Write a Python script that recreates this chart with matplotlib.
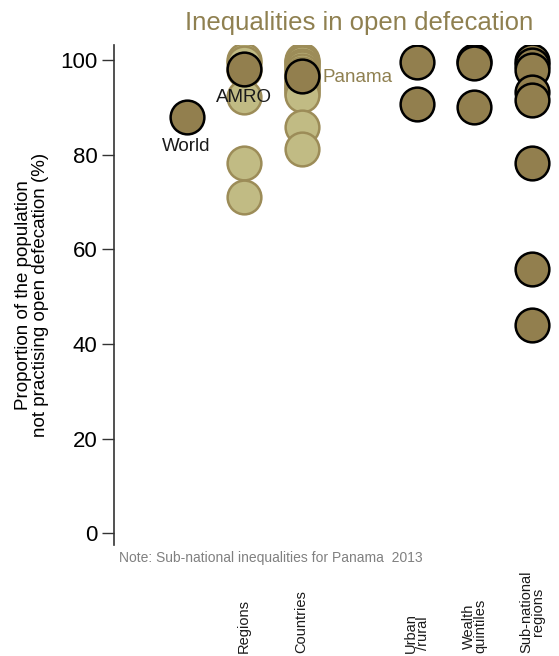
import matplotlib
matplotlib.use("Agg")
import matplotlib.pyplot as plt
from matplotlib.transforms import blended_transform_factory

plt.rcParams['font.family'] = ['Liberation Sans', 'DejaVu Sans']

# Data
world_value = 88.0
amro_value = 98.2
panama_value = 96.6
regions_values = [100.0, 99.3, 98.0, 92.3, 78.3, 71.0]
countries_values = [100.0, 99.7, 99.3, 98.8, 98.3, 97.8, 97.0, 96.4, 95.8,
                    95.2, 94.6, 94.1, 93.6, 93.1, 92.6, 85.9, 81.3]
urban_rural_values = [99.6, 90.8]
wealth_values = [99.9, 99.3, 90.1]
subnational_values = [99.8, 98.9, 98.0, 93.2, 91.5, 78.2, 55.8, 44.0]

category_labels = ["Regions", "Countries", "Urban\n/rural", "Wealth\nquintiles", "Sub-national\nregions"]
yticks = [0, 20, 40, 60, 80, 100]

pos_world, pos_regions, pos_countries, pos_urban, pos_wealth, pos_sub = 1, 2, 3, 5, 6, 7
cat_positions = [pos_regions, pos_countries, pos_urban, pos_wealth, pos_sub]

dark_fill = '#927f4e'
light_fill = '#c1bb84'
light_edge = '#9c8c58'
title_color = '#8f8050'

fig = plt.figure(figsize=(5.59, 6.56), dpi=100)
W, H = 559, 656
ax = fig.add_axes([114 / W, 1 - 545 / H, (W - 114) / W, 500 / H])

S = 590
# light points
ax.scatter([pos_regions] * len(regions_values), regions_values, s=S, c=light_fill,
           edgecolors=light_edge, linewidths=1.8, zorder=2)
ax.scatter([pos_countries] * len(countries_values), countries_values, s=S, c=light_fill,
           edgecolors=light_edge, linewidths=1.8, zorder=2)
# dark points
ax.scatter([pos_world], [world_value], s=S, c=dark_fill, edgecolors='black', linewidths=1.8, zorder=3)
ax.scatter([pos_regions], [amro_value], s=S, c=dark_fill, edgecolors='black', linewidths=1.8, zorder=3)
ax.scatter([pos_countries], [panama_value], s=S, c=dark_fill, edgecolors='black', linewidths=1.8, zorder=3)
ax.scatter([pos_urban] * len(urban_rural_values), urban_rural_values, s=S, c=dark_fill,
           edgecolors='black', linewidths=1.8, zorder=3)
ax.scatter([pos_wealth] * len(wealth_values), wealth_values, s=S, c=dark_fill,
           edgecolors='black', linewidths=1.8, zorder=3)
ax.scatter([pos_sub] * len(subnational_values), subnational_values, s=S, c=dark_fill,
           edgecolors='black', linewidths=1.8, zorder=3)

# annotations
ax.text(pos_world, world_value - 4.4, "World", ha='center', va='top', fontsize=13.5, color='#1a1a1a', zorder=4)
ax.text(pos_regions, amro_value - 4.3, "AMRO", ha='center', va='top', fontsize=13.5, color='#1a1a1a', zorder=4)
ax.text(pos_countries + 0.36, panama_value - 0.3, "Panama", ha='left', va='center', fontsize=13.5,
        color=title_color, zorder=4)

ax.set_xlim(-0.26, 7.47)
ax.set_ylim(-2.5, 103.2)
ax.set_yticks(yticks)
ax.set_yticklabels([str(v) for v in yticks], fontsize=16)
ax.tick_params(axis='y', length=9, width=1, color='#333333', pad=3)
ax.set_xticks([])
for sp in ['top', 'right', 'bottom']:
    ax.spines[sp].set_visible(False)
ax.spines['left'].set_color('#333333')
ax.spines['left'].set_linewidth(1.2)
ax.set_ylabel("Proportion of the population\nnot practising open defecation (%)", fontsize=13.5,
              labelpad=8, linespacing=1.0)

fig.text(359.5 / W, 1 - 23 / H, "Inequalities in open defecation", fontsize=18.5, color=title_color,
         ha='center', va='center')

# note
ax.text(0.012, -0.012, "Note: Sub-national inequalities for Panama  2013", transform=ax.transAxes,
        fontsize=10, color='#808080', ha='left', va='top')

# category labels
trans = blended_transform_factory(ax.transData, fig.transFigure)
for p, lab in zip(cat_positions, category_labels):
    ax.text(p, 3 / H, lab, transform=trans, rotation=90, ha='center', va='bottom',
            fontsize=10.5, color='#1a1a1a', multialignment='center', linespacing=0.8)

fig.savefig("out.png", dpi=100)
